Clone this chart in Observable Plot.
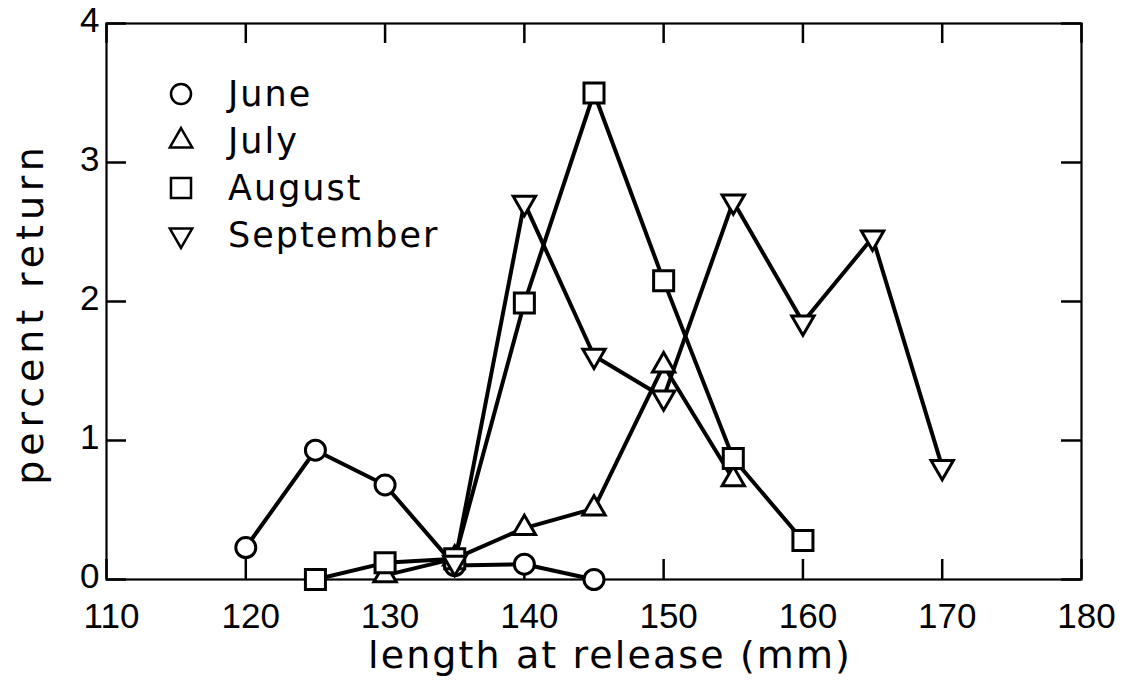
<!DOCTYPE html>
<html><head><meta charset="utf-8">
<script src="https://cdn.jsdelivr.net/npm/d3@7"></script>
<script src="https://cdn.jsdelivr.net/npm/@observablehq/plot@0.6"></script>
<style>
body{margin:0;background:#fff;}
#wrap{position:relative;width:1134px;height:681px;}
#legend{position:absolute;left:166px;top:70px;font-family:"DejaVu Sans";font-size:35px;letter-spacing:2px;color:#000;}
.row{display:flex;align-items:center;height:47px;}
.row svg{width:30px;height:30px;margin-right:32px;overflow:visible;}
svg g[aria-label="x-axis label"] text{letter-spacing:2.1px;font-size:38px;}
svg g[aria-label="x-axis label"]{translate:16px 0;}
svg g[aria-label="y-axis label"] text{letter-spacing:4.9px;font-size:38px;}
svg g[aria-label="y-axis label"]{translate:-4px 12px;}
svg g[aria-label$="tick label"] text{letter-spacing:0;font-family:"Liberation Sans";}
</style></head><body><div id="wrap"><div id="legend"></div></div>
<script>
// ---- data ----
const months = ["June", "July", "August", "September"];
const juneLength = [120, 125, 130, 135, 140, 145];
const juneReturn = [0.23, 0.93, 0.68, 0.10, 0.11, 0.0];
const julyLength = [130, 135, 140, 145, 150, 155];
const julyReturn = [0.03, 0.15, 0.37, 0.51, 1.54, 0.72];
const augustLength = [125, 130, 135, 140, 145, 150, 155, 160];
const augustReturn = [0.0, 0.12, 0.15, 1.99, 3.50, 2.15, 0.87, 0.28];
const septemberLength = [135, 140, 145, 150, 155, 160, 165, 170];
const septemberReturn = [0.12, 2.71, 1.61, 1.31, 2.72, 1.85, 2.46, 0.81];
const xTicks = [110, 120, 130, 140, 150, 160, 170, 180];
const yTicks = [0, 1, 2, 3, 4];
const xLabel = "length at release (mm)";
const yLabel = "percent return";

const seriesLengths = [juneLength, julyLength, augustLength, septemberLength];
const seriesReturns = [juneReturn, julyReturn, augustReturn, septemberReturn];
const table = months.flatMap((m, i) => seriesLengths[i].map((len, j) => ({month: m, length: len, ret: seriesReturns[i][j]})));

// inverted triangle symbol
const triangleDown = {
  draw(context, size) {
    const s3 = Math.sqrt(3);
    const y = -Math.sqrt(size / (s3 * 3));
    context.moveTo(0, -y * 2);
    context.lineTo(-s3 * y, y);
    context.lineTo(s3 * y, y);
    context.closePath();
  }
};
const symbols = {June: "circle", July: "triangle", August: "square", September: triangleDown};
const radii = {June: 10, July: 8.3, August: 11.3, September: 8.3};

const W = 1134, H = 681, mL = 106, mR = 53, mT = 23, mB = 102;
const fw = W - mL - mR, fh = H - mT - mB, tick = 20;

const plot = Plot.plot({
  width: W, height: H,
  marginLeft: mL, marginRight: mR, marginTop: mT, marginBottom: mB,
  x: {domain: [110, 180]},
  y: {domain: [0, 4]},
  style: {fontFamily: "DejaVu Sans", fontSize: "35px", color: "#000", background: "#fff"},
  marks: [
    Plot.frame({stroke: "#000", strokeWidth: 2.2}),
    Plot.tickX(xTicks, {x: d => d, insetTop: fh - tick, stroke: "#000", strokeWidth: 2.5}),
    Plot.tickX(xTicks, {x: d => d, insetBottom: fh - tick, stroke: "#000", strokeWidth: 2.5}),
    Plot.tickY(yTicks, {y: d => d, insetRight: fw - tick, stroke: "#000", strokeWidth: 2.5}),
    Plot.tickY(yTicks, {y: d => d, insetLeft: fw - tick, stroke: "#000", strokeWidth: 2.5}),
    Plot.axisX(xTicks, {tickSize: 0, tickPadding: 24, dx: 5, tickFormat: d3.format("d"), label: xLabel, labelAnchor: "center", labelOffset: 88, labelArrow: "none"}),
    Plot.axisY(yTicks, {tickSize: 0, tickPadding: 7, dy: -3, tickFormat: d3.format("d"), label: yLabel, labelAnchor: "center", labelOffset: 86, labelArrow: "none"}),
    Plot.line(table, {x: "length", y: "ret", z: "month", stroke: "#000", strokeWidth: 4}),
    ...months.map(m => Plot.dot(table.filter(d => d.month === m), {
      x: "length", y: "ret", r: radii[m], symbol: symbols[m], fill: "#fff", stroke: "#000", strokeWidth: 3
    }))
  ]
});
document.getElementById("wrap").prepend(plot);

// legend (HTML overlay)
const legend = d3.select("#legend");
const d3sym = {June: d3.symbolCircle, July: d3.symbolTriangle, August: d3.symbolSquare, September: triangleDown};
months.forEach(m => {
  const row = legend.append("div").attr("class", "row");
  const svg = row.append("svg").attr("viewBox", "-15 -15 30 30");
  svg.append("path")
    .attr("d", d3.symbol(d3sym[m], Math.PI * radii[m] * radii[m])())
    .attr("fill", "#fff").attr("stroke", "#000").attr("stroke-width", 2.5);
  row.append("span").text(m);
});
</script></body></html>
